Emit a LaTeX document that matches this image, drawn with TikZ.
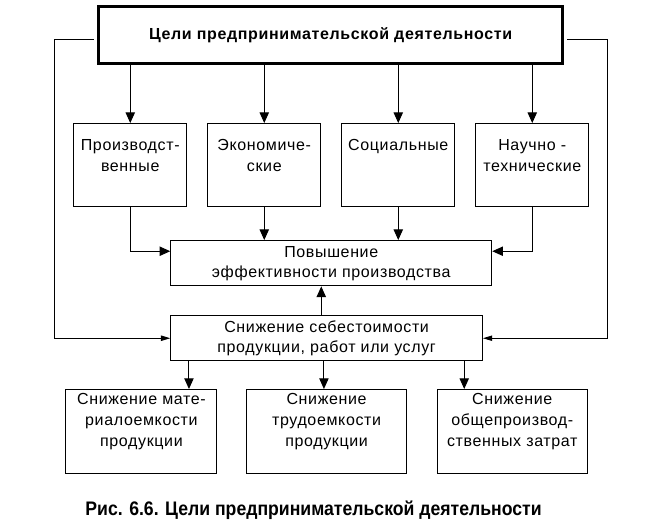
\documentclass[tikz,border=0pt]{standalone}
\usepackage{fontspec}
\setmainfont[LetterSpace=4]{Liberation Sans}
\newfontfamily\capfont{Liberation Sans}
\usetikzlibrary{arrows.meta, positioning, calc}

\begin{document}
\begin{tikzpicture}[
    topbox/.style={rectangle, draw=black, line width=2pt, minimum width=348pt, minimum height=42.5pt, align=center, font=\bfseries\fontsize{12}{14}\selectfont},
    goal/.style={rectangle, draw=black, line width=0.75pt, minimum width=84.75pt, minimum height=62.5pt},
    wide/.style={rectangle, draw=black, line width=0.75pt, minimum height=34pt, align=center, font=\fontsize{12}{15}\selectfont},
    lower/.style={rectangle, draw=black, line width=0.75pt, minimum height=63pt},
    inner/.style={anchor=north, align=center, font=\fontsize{12}{15.5}\selectfont},
    arrow/.style={-{Triangle[length=8pt, width=7pt]}, line width=0.75pt},
    side/.style={-{Triangle[length=7pt, width=4pt]}, line width=0.75pt, shorten <=2.5pt},
    node distance=15pt
]
\useasboundingbox (-247.95pt,26.25pt) rectangle (243.3pt,-371.25pt);

% Main flow
\node[topbox] (top) at (0,0) {Цели предпринимательской деятельности};
\node[goal, below=43.8pt of top, xshift=-49.75pt, label={[inner, yshift=-9pt]north:Экономиче-\\ские}] (econ) {};
\node[goal, right=15pt of econ, label={[inner, yshift=-9pt]north:Социальные}] (soc) {};
\node[goal, left=15pt of econ, label={[inner, yshift=-9pt]north:Производст-\\венные}] (prod) {};
\node[goal, right=15pt of soc, label={[inner, yshift=-9pt]north:Научно -\\технические}] (tech) {};
\coordinate (mid) at ($(econ.south)!0.5!(soc.south)$);
\node[wide, minimum width=240.75pt, below=24.5pt of mid] (effect) {Повышение\\эффективности производства};
\node[wide, minimum width=233.7pt, below=21.5pt of effect, xshift=-3.5pt] (cost) {Снижение себестоимости\\продукции, работ или услуг};
\node[lower, minimum width=119.5pt, below=20.7pt of cost, label={[inner, yshift=0pt]north:Снижение\\трудоемкости\\продукции}] (labour) {};
\node[lower, minimum width=113.25pt, left=21.75pt of labour, label={[inner, yshift=0pt]north:Снижение мате-\\риалоемкости\\продукции}] (material) {};
\node[lower, minimum width=112.5pt, right=22.5pt of labour, label={[inner, yshift=0pt]north:Снижение\\общепроизвод-\\ственных затрат}] (overhead) {};
\node[font=\capfont\bfseries\fontsize{14.7}{17}\selectfont, below=17pt of labour, xshift=-9.8pt] (caption) {\scalebox{0.9}[1]{Рис. 6.6. Цели предпринимательской деятельности}};

\coordinate (lft) at ([xshift=-14pt]prod.west);
\coordinate (rgt) at ([xshift=14pt]tech.east);

% Arrows
\foreach \g in {prod, econ, soc, tech}
  \draw[arrow] (top.south -| \g) -- (\g);
\draw[arrow] (prod) |- ([yshift=9pt]effect.west);
\draw[arrow] (econ) -- (econ |- effect.north);
\draw[arrow] (soc) -- (soc |- effect.north);
\draw[arrow] (tech) |- ([yshift=9pt]effect.east);
\draw[arrow] ([xshift=-4pt]cost.north) -- ([xshift=-4pt]cost.north |- effect.south);
\draw[side] ([yshift=-3.75pt]top.west) -| (lft |- cost.west) -- (cost.west);
\draw[side] ([yshift=-3.75pt]top.east) -| (rgt |- cost.east) -- (cost.east);
\draw[arrow] ([xshift=14pt]cost.south west) -- ([xshift=14pt]cost.south west |- material.north);
\draw[arrow] ([xshift=-2pt]cost.south) -- ([xshift=-2pt]cost.south |- labour.north);
\draw[arrow] ([xshift=-14pt]cost.south east) -- ([xshift=-14pt]cost.south east |- overhead.north);

\end{tikzpicture}
\end{document}
